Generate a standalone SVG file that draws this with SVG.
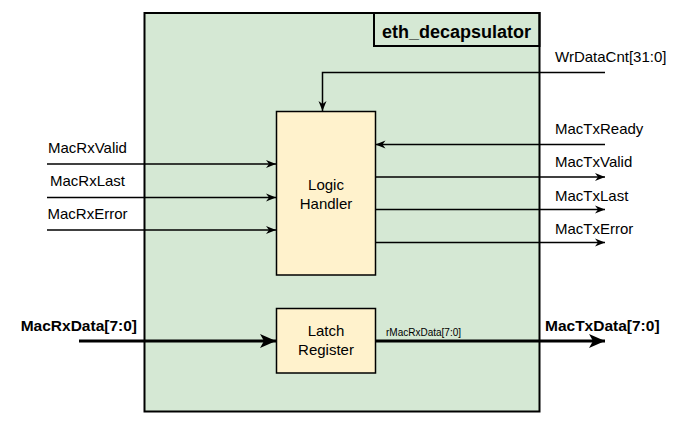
<svg xmlns="http://www.w3.org/2000/svg" width="686" height="428" viewBox="0 0 686 428">
  <style>
    .lbl { font-family: "Liberation Sans", Arial, sans-serif; font-size: 15px; fill: #000; }
    .bold { font-family: "Liberation Sans", Arial, sans-serif; font-weight: bold; fill: #000; }
    .small { font-family: "Liberation Sans", Arial, sans-serif; font-size: 10px; fill: #000; }
    .wire { stroke: #000; stroke-width: 1.5; fill: none; }
    .bus { stroke: #000; stroke-width: 3; fill: none; }
    .blk { fill: #fff2cc; stroke: #000; stroke-width: 1.5; }
  </style>
  <defs>
    <marker id="arr" markerUnits="userSpaceOnUse" markerWidth="12" markerHeight="10" refX="11" refY="5" orient="auto">
      <path d="M1,1 L11,5 L1,9 L4,5 Z" fill="#000"/>
    </marker>
    <marker id="arrBig" markerUnits="userSpaceOnUse" markerWidth="18" markerHeight="16" refX="17" refY="8" orient="auto">
      <path d="M1,1 L17,8 L1,15 L5,8 Z" fill="#000"/>
    </marker>
  </defs>

  <g id="eth_decapsulator">
    <rect x="144.5" y="13" width="395" height="398.5" fill="#d5e8d4" stroke="#000" stroke-width="2"/>
    <rect x="374" y="13" width="165.5" height="33" fill="none" stroke="#000" stroke-width="2"/>
    <text class="bold" x="456.5" y="37.5" font-size="18" text-anchor="middle">eth_decapsulator</text>
  </g>

  <g id="connectors">
    <polyline class="wire" points="605,72.5 322.5,72.5 322.5,111" marker-end="url(#arr)"/>
    <line class="wire" x1="47" y1="164" x2="276" y2="164" marker-end="url(#arr)"/>
    <line class="wire" x1="47" y1="197.5" x2="276" y2="197.5" marker-end="url(#arr)"/>
    <line class="wire" x1="47" y1="230" x2="276" y2="230" marker-end="url(#arr)"/>
    <line class="wire" x1="605" y1="144.5" x2="375.5" y2="144.5" marker-end="url(#arr)"/>
    <line class="wire" x1="375.5" y1="177" x2="605" y2="177" marker-end="url(#arr)"/>
    <line class="wire" x1="375.5" y1="209.5" x2="605" y2="209.5" marker-end="url(#arr)"/>
    <line class="wire" x1="375.5" y1="242.5" x2="605" y2="242.5" marker-end="url(#arr)"/>
    <line class="bus" x1="79" y1="341" x2="276" y2="341" marker-end="url(#arrBig)"/>
    <line class="bus" x1="375.5" y1="341" x2="605" y2="341" marker-end="url(#arrBig)"/>
  </g>

  <g id="logic_handler">
    <rect class="blk" x="276.5" y="111.5" width="99" height="163.5"/>
    <text class="lbl" x="326" y="189.5" text-anchor="middle">Logic</text>
    <text class="lbl" x="326" y="208.5" text-anchor="middle">Handler</text>
  </g>

  <g id="latch_register">
    <rect class="blk" x="276.5" y="308.5" width="99" height="64.5"/>
    <text class="lbl" x="326" y="336" text-anchor="middle">Latch</text>
    <text class="lbl" x="326" y="355" text-anchor="middle">Register</text>
  </g>

  <g id="labels">
    <text class="lbl" x="87.5" y="153" text-anchor="middle">MacRxValid</text>
    <text class="lbl" x="87.5" y="186" text-anchor="middle">MacRxLast</text>
    <text class="lbl" x="87.5" y="218.5" text-anchor="middle">MacRxError</text>
    <text class="lbl" x="555" y="61.5">WrDataCnt[31:0]</text>
    <text class="lbl" x="555" y="133.5">MacTxReady</text>
    <text class="lbl" x="555" y="166.5">MacTxValid</text>
    <text class="lbl" x="555" y="201">MacTxLast</text>
    <text class="lbl" x="555" y="233.5">MacTxError</text>
    <text class="bold" x="137" y="330.5" font-size="15.5" text-anchor="end">MacRxData[7:0]</text>
    <text class="bold" x="545" y="330.5" font-size="15.5">MacTxData[7:0]</text>
    <text class="small" x="386" y="336">rMacRxData[7:0]</text>
  </g>
</svg>
